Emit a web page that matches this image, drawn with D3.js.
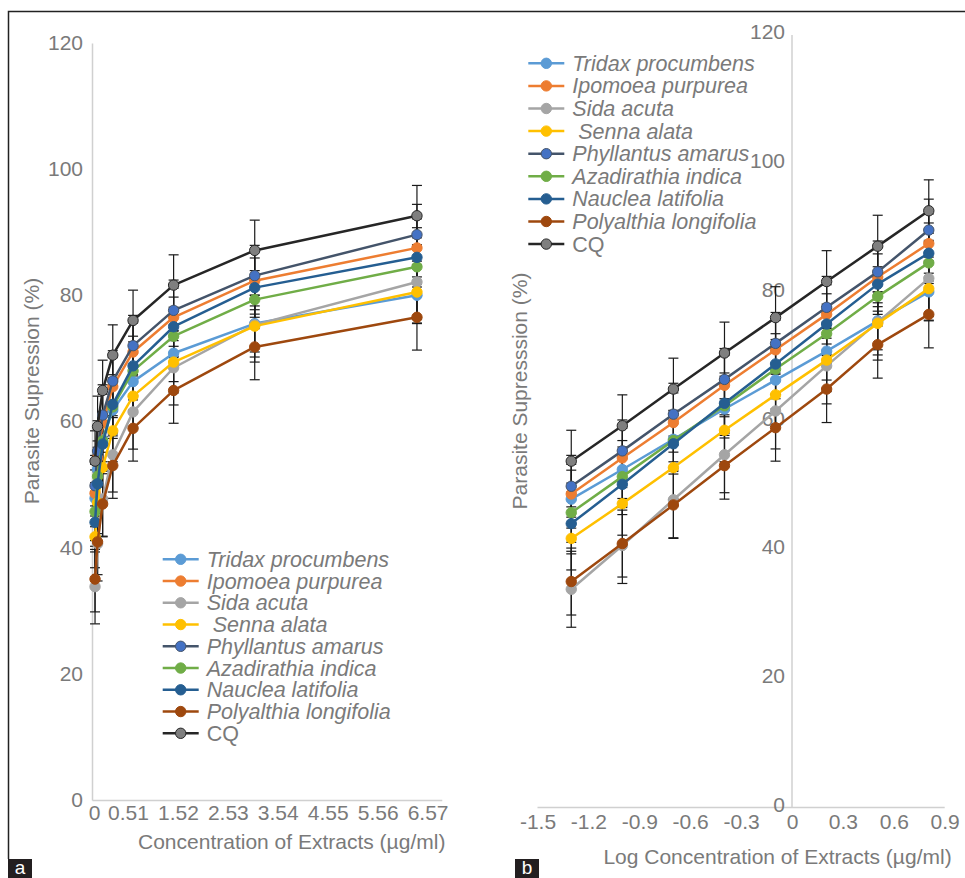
<!DOCTYPE html>
<html>
<head>
<meta charset="utf-8">
<script src="https://cdn.jsdelivr.net/npm/d3@7"></script>
<style>
    body { margin: 0; background: #fff; }
    svg text { font-family: "Liberation Sans", Arial, sans-serif; fill: #7a7a7a; }
</style>
</head>
<body>
<div id="chart"></div>
<script>

// concentration of extracts (µg/ml), same points in both panels
var concentrations = [0.05, 0.1, 0.2, 0.4, 0.8, 1.6, 3.2, 6.4];

var seriesNames = ["Tridax procumbens", "Ipomoea purpurea", "Sida acuta", " Senna alata",
    "Phyllantus amarus", "Azadirathia indica", "Nauclea latifolia", "Polyalthia longifolia", "CQ"];

// parasite supression (%)
var tridax     = [47.9, 52.5, 57.2, 61.9, 66.4, 70.9, 75.6, 80.1];
var ipomoea    = [48.7, 54.3, 59.8, 65.6, 71.1, 76.6, 82.4, 87.6];
var sida       = [33.9, 40.7, 47.8, 54.8, 61.6, 68.6, 75.4, 82.2];
var senna      = [41.8, 47.2, 52.8, 58.6, 64.1, 69.5, 75.2, 80.6];
var phyllantus = [49.9, 55.4, 61.1, 66.5, 72.1, 77.7, 83.2, 89.7];
var azadirathia= [45.8, 51.4, 57.0, 62.4, 68.1, 73.6, 79.4, 84.6];
var nauclea    = [44.1, 50.2, 56.5, 62.8, 68.9, 75.1, 81.3, 86.1];
var polyalthia = [35.1, 41.0, 47.0, 53.1, 59.0, 65.0, 71.9, 76.6];
var cq         = [53.8, 59.3, 65.0, 70.6, 76.1, 81.7, 87.2, 92.7];

// error bar size for each series (+/-)
var seriesErrors = [4.5, 4.6, 5.9, 4.9, 4.8, 4.6, 4.7, 5.2, 4.8];

// tick labels
var yTickLabels = [0, 20, 40, 60, 80, 100, 120];
var leftXTickLabels = [0, 0.51, 1.52, 2.53, 3.54, 4.55, 5.56, 6.57];
var rightXTickLabels = [-1.5, -1.2, -0.9, -0.6, -0.3, 0, 0.3, 0.6, 0.9];

var seriesValues = [tridax, ipomoea, sida, senna, phyllantus, azadirathia, nauclea, polyalthia, cq];

// colours (line, marker fill, marker border)
var lineColors   = ["#5b9bd5", "#ed7d31", "#a5a5a5", "#ffc000", "#44546a", "#70ad47", "#255e91", "#9e480e", "#262626"];
var markerColors = ["#5b9bd5", "#ed7d31", "#a5a5a5", "#ffc000", "#4472c4", "#70ad47", "#255e91", "#9e480e", "#7f7f7f"];
var markerStroke = ["#5b9bd5", "#ed7d31", "#a5a5a5", "#ffc000", "#44546a", "#70ad47", "#255e91", "#9e480e", "#262626"];

var series = seriesNames.map(function(name, i) {
    return {
        name: name,
        index: i,
        points: concentrations.map(function(c, j) {
            return { conc: c, logConc: Math.log10(c), value: seriesValues[i][j], err: seriesErrors[i] };
        })
    };
});

var svg = d3.select("#chart").append("svg")
    .attr("width", 965)
    .attr("height", 878);

// frame (top and left only)
svg.append("path")
    .attr("d", "M8.5,859V11.5H965")
    .attr("fill", "none")
    .attr("stroke", "#222")
    .attr("stroke-width", 1.5);


function drawPanel(opt) {
    var g = svg.append("g");
    var x = opt.x, y = opt.y;

    // axes lines
    g.append("line")
        .attr("x1", opt.yAxisX).attr("x2", opt.yAxisX)
        .attr("y1", y(120)).attr("y2", y(0))
        .attr("stroke", "#d0d0d0").attr("stroke-width", 1.5);
    g.append("line")
        .attr("x1", x.range()[0]).attr("x2", x.range()[1])
        .attr("y1", y(0)).attr("y2", y(0))
        .attr("stroke", "#d0d0d0").attr("stroke-width", 1.5);

    // y tick labels
    var yAxis = d3.axisLeft(y).tickValues(yTickLabels).tickSize(0).tickPadding(0);
    var yg = g.append("g")
        .attr("transform", "translate(" + opt.yLabelX + "," + opt.yLabelShift + ")")
        .call(yAxis);
    yg.select(".domain").remove();
    yg.selectAll("text")
        .attr("font-size", 21)
        .attr("dy", "0.35em")
        .attr("font-family", null);

    // x tick labels
    var xAxis = d3.axisBottom(opt.xTick).tickValues(opt.xTicks).tickSize(0).tickPadding(0)
        .tickFormat(function(d) { return String(d); });
    var xg = g.append("g")
        .attr("transform", "translate(0," + opt.xLabelY + ")")
        .call(xAxis);
    xg.select(".domain").remove();
    xg.selectAll("text")
        .attr("font-size", 21)
        .attr("dy", "0.35em")
        .attr("y", 0)
        .attr("font-family", null);

    // axis titles
    g.append("text")
        .attr("x", opt.xTitle[0]).attr("y", opt.xTitle[1])
        .attr("text-anchor", "middle").attr("dy", "0.35em")
        .attr("font-size", 21)
        .text(opt.xTitleText);
    g.append("text")
        .attr("transform", "translate(" + opt.yTitle[0] + "," + opt.yTitle[1] + ") rotate(-90)")
        .attr("text-anchor", "middle").attr("dy", "0.35em")
        .attr("font-size", 21)
        .text(opt.yTitleText);

    // error bars
    var eb = g.append("g").attr("class", "errorbars");
    series.forEach(function(s) {
        var bars = eb.selectAll(".eb" + s.index)
            .data(s.points)
            .enter().append("g");
        bars.append("line")
            .attr("x1", function(d) { return x(opt.xv(d)); })
            .attr("x2", function(d) { return x(opt.xv(d)); })
            .attr("y1", function(d) { return y(d.value - d.err); })
            .attr("y2", function(d) { return y(d.value + d.err); });
        [-1, 1].forEach(function(sign) {
            bars.append("line")
                .attr("x1", function(d) { return x(opt.xv(d)) - 5; })
                .attr("x2", function(d) { return x(opt.xv(d)) + 5; })
                .attr("y1", function(d) { return y(d.value + sign * d.err); })
                .attr("y2", function(d) { return y(d.value + sign * d.err); });
        });
    });
    eb.selectAll("line").attr("stroke", "#1a1a1a").attr("stroke-width", 1.2);

    // lines and markers
    var line = d3.line()
        .x(function(d) { return x(opt.xv(d)); })
        .y(function(d) { return y(d.value); });

    series.forEach(function(s) {
        g.append("path")
            .datum(s.points)
            .attr("d", line)
            .attr("fill", "none")
            .attr("stroke", lineColors[s.index])
            .attr("stroke-width", 2.5)
            .attr("stroke-linejoin", "round");
        g.selectAll(".m" + s.index)
            .data(s.points)
            .enter().append("circle")
            .attr("cx", function(d) { return x(opt.xv(d)); })
            .attr("cy", function(d) { return y(d.value); })
            .attr("r", 5.2)
            .attr("fill", markerColors[s.index])
            .attr("stroke", markerStroke[s.index])
            .attr("stroke-width", 1);
    });

    // legend
    var leg = g.append("g").attr("class", "legend");
    var rows = leg.selectAll("g")
        .data(series)
        .enter().append("g")
        .attr("transform", function(d, i) {
            return "translate(" + opt.legend[0] + "," + (opt.legend[1] + i * opt.legendStep) + ")";
        });
    rows.append("line")
        .attr("x1", 0).attr("x2", 36)
        .attr("stroke", function(d) { return lineColors[d.index]; })
        .attr("stroke-width", 2.5);
    rows.append("circle")
        .attr("cx", 18).attr("r", 5.2)
        .attr("fill", function(d) { return markerColors[d.index]; })
        .attr("stroke", function(d) { return markerStroke[d.index]; });
    rows.append("text")
        .attr("x", 44).attr("dy", "0.35em")
        .attr("font-size", 21.5)
        .style("white-space", "pre")
        .style("font-style", function(d) { return d.name === "CQ" ? "normal" : "italic"; })
        .text(function(d) { return d.name; });

    // panel letter
    svg.append("rect")
        .attr("x", opt.letter[0]).attr("y", 859)
        .attr("width", 24).attr("height", 19)
        .attr("fill", "#231f20");
    svg.append("text")
        .attr("x", opt.letter[0] + 12).attr("y", 874)
        .attr("text-anchor", "middle")
        .attr("font-size", 19)
        .style("fill", "#fff")
        .text(opt.letterText);
}


// panel a: linear concentration
var xL = d3.scaleLinear().domain([0, 6.9]).range([92.5, 442.3]);
var yL = d3.scaleLinear().domain([0, 120]).range([800.5, 43.5]);
// Excel put its odd tick labels slightly off the data grid
var xLabL = d3.scaleLinear().domain([0, 0.51, 6.57]).range([xL(0.03), xL(0.70), xL(6.61)]);

drawPanel({
    x: xL, y: yL, xTick: xLabL, xTicks: leftXTickLabels,
    xv: function(d) { return d.conc; },
    yAxisX: xL(0), yLabelX: 83, yLabelShift: -1.5, xLabelY: 813,
    xTitle: [291.7, 842], xTitleText: "Concentration of Extracts (µg/ml)",
    yTitle: [32, 391], yTitleText: "Parasite Supression (%)",
    legend: [162.7, 559.3], legendStep: 21.75,
    letter: [8, 859], letterText: "a"
});

// panel b: log concentration
var xR = d3.scaleLinear().domain([-1.5, 0.9]).range([537.5, 944.7]);
var yR = d3.scaleLinear().domain([0, 120]).range([807.5, 35]);

drawPanel({
    x: xR, y: yR, xTick: xR, xTicks: rightXTickLabels,
    xv: function(d) { return d.logConc; },
    yAxisX: xR(0), yLabelX: 785, yLabelShift: -3.5, xLabelY: 822,
    xTitle: [777.5, 857], xTitleText: "Log Concentration of Extracts (µg/ml)",
    yTitle: [520, 391], yTitleText: "Parasite Supresssion (%)",
    legend: [528.3, 63.3], legendStep: 22.6,
    letter: [515, 859], letterText: "b"
});

</script>
</body>
</html>
